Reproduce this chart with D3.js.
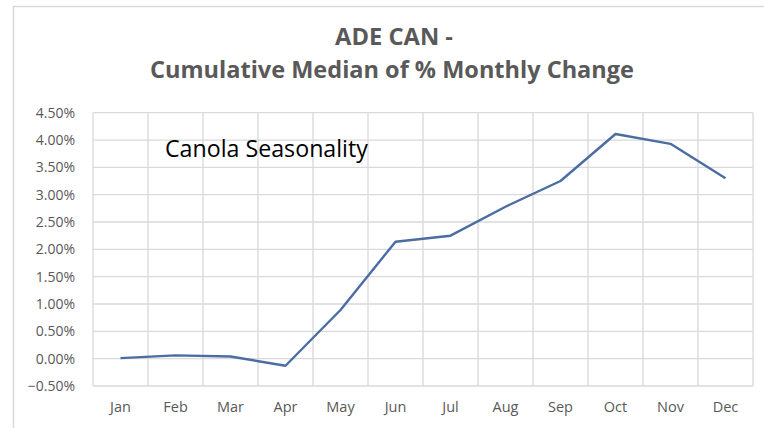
<!DOCTYPE html>
<html><head><meta charset="utf-8">
<script src="https://cdn.jsdelivr.net/npm/d3@7"></script>
<style>body{margin:0;background:#fff}svg{display:block}</style>
</head><body>
<script>
const months = ["Jan","Feb","Mar","Apr","May","Jun","Jul","Aug","Sep","Oct","Nov","Dec"];
const values = [0.0001,0.0006,0.0004,-0.0013,0.0089,0.0214,0.0225,0.0278,0.0325,0.0411,0.0393,0.0330];
const yTicks = [-0.005,0,0.005,0.01,0.015,0.02,0.025,0.03,0.035,0.04,0.045];
const titleLines = ["ADE CAN -","Cumulative Median of % Monthly Change"];
const annotation = "Canola Seasonality";

const W=764,H=428;
const svg=d3.select("body").append("svg").attr("width",W).attr("height",H);
svg.append("rect").attr("x",13.5).attr("y",6.5).attr("width",W).attr("height",H).attr("fill","#fff").attr("stroke","#d9d9d9").attr("stroke-width",1.5);

const L=93,R=753,T=112.7,B=386;
const x=d3.scaleBand().domain(months).range([L,R]);
const y=d3.scaleLinear().domain([-0.005,0.045]).range([B,T]);

const grid="#d9d9d9";
svg.append("g").selectAll("line").data(yTicks).join("line")
  .attr("x1",L).attr("x2",R).attr("y1",d=>y(d)).attr("y2",d=>y(d))
  .attr("stroke",grid).attr("stroke-width",1.3);
const bounds=months.map(m=>x(m)).concat([R]);
svg.append("g").selectAll("line").data(bounds).join("line")
  .attr("x1",d=>d).attr("x2",d=>d).attr("y1",T).attr("y2",B)
  .attr("stroke",grid).attr("stroke-width",1.3);

const font="'Open Sans', sans-serif";
const yAxis=d3.axisLeft(y).tickValues(yTicks).tickFormat(d3.format(".2%")).tickSize(0).tickPadding(18);
const gy=svg.append("g").attr("transform",`translate(${L},0)`).call(yAxis);
gy.select(".domain").remove();
gy.selectAll("text").attr("font-family",font).attr("font-size",14).attr("fill","#595959");

const xAxis=d3.axisBottom(x).tickSize(0).tickPadding(16);
const gx=svg.append("g").attr("transform",`translate(0,${B})`).call(xAxis);
gx.select(".domain").remove();
gx.selectAll("text").attr("font-family",font).attr("font-size",14.5).attr("fill","#595959");

const line=d3.line().x((d,i)=>x(months[i])+x.bandwidth()/2).y(d=>y(d));
svg.append("path").datum(values).attr("d",line).attr("fill","none")
  .attr("stroke","#4a6da3").attr("stroke-width",2.4).attr("stroke-linejoin","round");

function fitText(sel,target){
  const w=sel.node().getComputedTextLength();
  const fs=parseFloat(sel.attr("font-size"));
  sel.attr("font-size",fs*target/w);
}
const t1=svg.append("text").attr("x",394).attr("y",45).attr("text-anchor","middle")
  .attr("font-family",font).attr("font-weight","bold").attr("font-size",20).attr("fill","#595959").text(titleLines[0]);
fitText(t1,118);
const t2=svg.append("text").attr("x",392).attr("y",78).attr("text-anchor","middle")
  .attr("font-family",font).attr("font-weight","bold").attr("font-size",20).attr("fill","#595959").text(titleLines[1]);
fitText(t2,484);
const a=svg.append("text").attr("x",165).attr("y",157).attr("font-family",font)
  .attr("font-size",20).attr("fill","#000").text(annotation);
fitText(a,203);
</script>
</body></html>
